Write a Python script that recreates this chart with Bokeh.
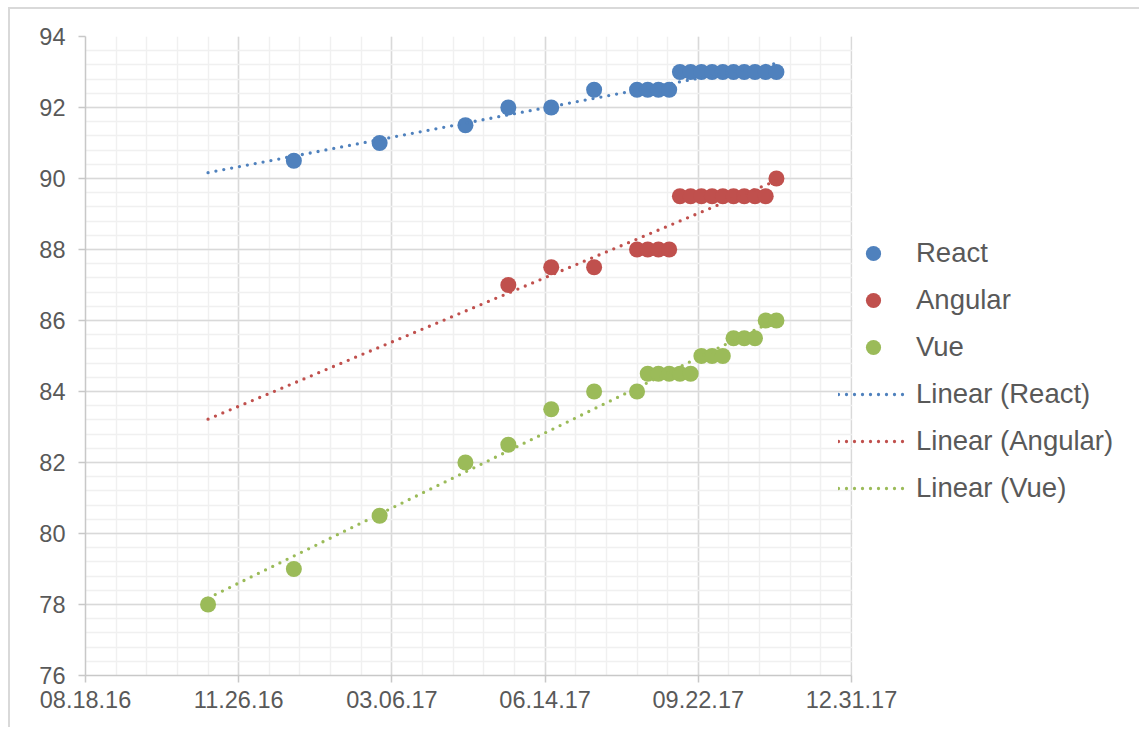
import numpy as np
import pandas as pd
from bokeh.plotting import figure
from bokeh.models import (FixedTicker, DatetimeTickFormatter, Legend, LegendItem,
                          ColumnDataSource, Range1d, BoxAnnotation)
from bokeh.embed import file_html
from bokeh.resources import INLINE

# ---------------- data ----------------
dates = ["2016-11-06", "2017-01-01", "2017-02-26", "2017-04-23", "2017-05-21",
         "2017-06-18", "2017-07-16", "2017-08-13", "2017-08-20", "2017-08-27",
         "2017-09-03", "2017-09-10", "2017-09-17", "2017-09-24", "2017-10-01",
         "2017-10-08", "2017-10-15", "2017-10-22", "2017-10-29", "2017-11-05",
         "2017-11-12"]
nan = float("nan")
react = [nan, 90.5, 91, 91.5, 92, 92, 92.5, 92.5, 92.5, 92.5, 92.5,
         93, 93, 93, 93, 93, 93, 93, 93, 93, 93]
angular = [nan, nan, nan, nan, 87, 87.5, 87.5, 88, 88, 88, 88,
           89.5, 89.5, 89.5, 89.5, 89.5, 89.5, 89.5, 89.5, 89.5, 90]
vue = [78, 79, 80.5, 82, 82.5, 83.5, 84, 84, 84.5, 84.5, 84.5,
       84.5, 84.5, 85, 85, 85, 85.5, 85.5, 85.5, 86, 86]
series_names = ["React", "Angular", "Vue"]
series_colors = ["#4F81BD", "#C0504D", "#9BBB59"]
x_tick_dates = ["2016-08-18", "2016-11-26", "2017-03-06", "2017-06-14",
                "2017-09-22", "2017-12-31"]
y_ticks = [76, 78, 80, 82, 84, 86, 88, 90, 92, 94]

# ---------------- helpers ----------------
DAY = 86400000.0


def to_ms(lst):
    return (pd.to_datetime(lst) - pd.Timestamp("1970-01-01")) / pd.Timedelta(milliseconds=1)


x_ms = np.asarray(to_ms(dates), dtype=float)
xt_ms = np.asarray(to_ms(x_tick_dates), dtype=float)
x_minor = list(np.arange(xt_ms[0], xt_ms[-1] + 1, 20 * DAY))
y_minor = list(np.round(np.arange(76, 94.0001, 0.4), 4))

FONT = "Liberation Sans"
TXT = "#595959"

# axis area is 766 px wide; the frame continues to the right for the legend
AXIS_PX = 766.0
FRAME_PX = 1056.0
x_start = xt_ms[0]
x_axis_end = xt_ms[-1]
x_frame_end = x_start + (x_axis_end - x_start) * FRAME_PX / AXIS_PX

p = figure(width=1131, height=720, x_axis_type="datetime",
           x_range=Range1d(x_start, x_frame_end), y_range=Range1d(76, 94),
           output_backend="svg", toolbar_location=None,
           min_border_left=75, min_border_top=27, min_border_right=0,
           min_border_bottom=54)
p.styles = {"margin-left": "8px", "margin-top": "7px",
            "border-left": "2px solid #d9d9d9", "border-top": "2px solid #d9d9d9"}
p.outline_line_color = None
p.background_fill_color = "white"
p.border_fill_color = "white"

p.xaxis.ticker = FixedTicker(ticks=list(xt_ms), minor_ticks=x_minor)
p.yaxis.ticker = FixedTicker(ticks=y_ticks, minor_ticks=y_minor)
p.xaxis.bounds = (x_start, x_axis_end)
fmt = "%m.%d.%y"
p.xaxis.formatter = DatetimeTickFormatter(
    microseconds=fmt, milliseconds=fmt, seconds=fmt, minsec=fmt, minutes=fmt,
    hourmin=fmt, hours=fmt, days=fmt, months=fmt, years=fmt)

for ax in (p.xaxis[0], p.yaxis[0]):
    ax.axis_line_color = "#c8c8c8"
    ax.axis_line_width = 1.5
    ax.major_tick_line_color = "#c8c8c8"
    ax.major_tick_line_width = 1.5
    ax.major_tick_in = 0
    ax.major_tick_out = 7
    ax.minor_tick_line_color = None
    ax.major_label_text_font = FONT
    ax.major_label_text_font_size = "23.5px"
    ax.major_label_text_color = TXT
p.xaxis.major_label_standoff = 8
p.yaxis.major_label_standoff = 13

for g in (p.xgrid[0], p.ygrid[0]):
    g.grid_line_color = "#d9d9d9"
    g.grid_line_width = 1.5
    g.minor_grid_line_color = "#f0f0f0"
    g.minor_grid_line_width = 1.5

# white cover for the part of the frame right of the plot area (legend zone)
cover = BoxAnnotation(left=x_axis_end + 0.6 * DAY, right=x_frame_end,
                      bottom=76, top=94, fill_color="white", fill_alpha=1,
                      line_color=None, level="underlay")
p.add_layout(cover)

# ---------------- glyphs ----------------
marker_items = []
trend_items = []
for name, vals, col in zip(series_names, [react, angular, vue], series_colors):
    y = np.asarray(vals, dtype=float)
    src = ColumnDataSource(dict(x=x_ms, y=y))
    r = p.scatter("x", "y", source=src, size=16, fill_color=col, line_color=None)
    marker_items.append(LegendItem(label=name, renderers=[r]))

for name, vals, col in zip(series_names, [react, angular, vue], series_colors):
    y = np.asarray(vals, dtype=float)
    ok = ~np.isnan(y)
    d = x_ms / DAY
    k, b = np.polyfit(d[ok], y[ok], 1)
    xs = [x_ms.min(), x_ms.max()]
    ys = [k * (xs[0] / DAY) + b, k * (xs[1] / DAY) + b]
    tr = p.line(xs, ys, line_color=col, line_width=3.3, line_dash="0 8",
                line_cap="round")
    trend_items.append(LegendItem(label="Linear (%s)" % name, renderers=[tr]))

legend = Legend(items=marker_items + trend_items, location=(753, 164),
                orientation="vertical", label_text_font=FONT,
                label_text_font_size="27.5px", label_text_color=TXT,
                glyph_width=70, glyph_height=38, label_height=47, spacing=0,
                padding=0, margin=0, border_line_color=None,
                background_fill_alpha=0, label_standoff=8)
p.add_layout(legend)

open("out.html", "w").write(file_html(p, INLINE))
